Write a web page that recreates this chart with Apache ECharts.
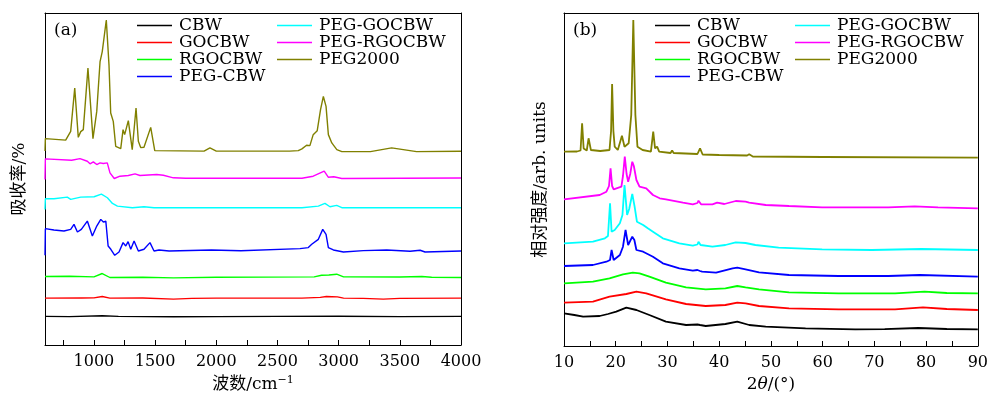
<!DOCTYPE html>
<html>
<head>
<meta charset="utf-8">
<script src="https://cdn.jsdelivr.net/npm/echarts@6/dist/echarts.min.js"></script>
<style>
html,body{margin:0;padding:0;background:#fff;}
#chart{width:991px;height:398px;}
</style>
</head>
<body>
<div id="chart"></div>
<script>
// ---------- DATA ----------
const seriesNames = ['CBW','GOCBW','RGOCBW','PEG-CBW','PEG-GOCBW','PEG-RGOCBW','PEG2000'];
const seriesColors = ['#000000','#ff0000','#00ff00','#0000ff','#00ffff','#ff00ff','#808000'];

// (a) FTIR: [wavenumber (cm^-1), offset absorbance (arb.)]
const ftirCBW = [[600,28.7],[800,28.5],[1068,29.3],[1200,28.7],[1650,28.3],[2000,28.5],[2500,28.7],[3000,28.9],[3500,28.5],[4000,28.7]];
const ftirGOCBW = [[600,47],[900,47.2],[1000,47.3],[1068,48.7],[1130,47],[1400,47.1],[1650,46],[1800,46.8],[2000,47],[2700,47],[2850,47.8],[2900,48.7],[2990,48.3],[3040,47],[3200,46.8],[3365,46],[3500,46.8],[4000,47]];
const ftirRGOCBW = [[600,68.7],[800,68.9],[1000,68.3],[1068,71.7],[1130,67.7],[1400,67.9],[1650,67.3],[2000,68],[2800,68.3],[2860,70],[2920,70.2],[2984,71],[3040,68.3],[3500,68.2],[3680,68.7],[3760,68],[4000,67.7]];
const ftirPEGCBW = [[600,90],[603,116.7],[673,115.3],[755,114.3],[810,116],[837,121],[865,113.3],[897,116],[946,124.3],[987,109.3],[1023,119.3],[1056,126],[1077,123.3],[1097,124.3],[1116,99.3],[1138,96],[1170,90],[1205,93.3],[1238,102.7],[1260,99.3],[1279,103.7],[1301,96],[1328,104.3],[1363,94.3],[1409,96],[1458,102.7],[1491,94.3],[1532,95.3],[1614,94.3],[1960,95.3],[2200,94.5],[2684,96.7],[2752,97.7],[2780,101],[2834,106],[2870,116],[2897,111],[2916,97.7],[2957,95.3],[3039,93.3],[3202,94.7],[3393,95.3],[3584,94],[3666,95],[3706,93.3],[4000,94.3]];
const ftirPEGGOCBW = [[600,136],[603,146.7],[673,146.7],[782,148.3],[810,146],[892,148.3],[1001,148.7],[1061,151.3],[1110,147.7],[1151,142],[1192,139.3],[1314,137.7],[1409,138.7],[1491,137.7],[2700,137.7],[2834,139.3],[2888,142],[2929,138.7],[2984,140],[3026,137.7],[4000,137.7]];
const ftirPEGRGOCBW = [[600,166],[603,186.7],[818,185.3],[886,187],[946,184.3],[968,181.7],[995,183.7],[1023,181],[1050,182.7],[1076,182],[1109,182.7],[1131,172.7],[1166,167],[1213,169.3],[1281,170],[1336,171.7],[1376,170],[1513,171],[1567,170.3],[1649,167.7],[1750,167.3],[2700,167.3],[2792,169.3],[2882,174.3],[2915,168.3],[2960,168.7],[3026,167],[4000,167.5]];
const ftirPEG2000 = [[600,194.5],[603,207],[769,205.5],[810,214.3],[843,257.7],[872,208.3],[892,214],[913,216],[951,277.7],[992,207],[1023,234.3],[1050,284.3],[1068,294.3],[1101,326],[1123,281],[1137,232.7],[1158,224.3],[1178,199.3],[1219,197],[1238,216],[1251,211],[1281,225],[1313,196],[1344,237.7],[1363,204.3],[1382,198],[1409,198.3],[1464,218.3],[1497,195],[1900,194.5],[1948,197.7],[2000,194.5],[2600,194.5],[2670,195],[2700,196.7],[2738,200.3],[2765,200],[2792,211],[2825,215],[2852,236],[2875,249.3],[2897,239.3],[2916,211],[2944,202.7],[2985,196],[3026,194],[3260,194],[3433,197.7],[3637,194],[4000,194.3]];

// (b) XRD: [2theta (deg), offset intensity (arb.)]
const xrdCBW = [[10,32.7],[12,31],[13.7,29.3],[16.9,30],[18.5,32],[20.1,34.3],[22.05,38.3],[24,36],[26.5,31],[29.7,24.3],[33.6,21],[35.8,21.5],[36,22.5],[36.3,21],[37.4,20],[41.2,22],[43.5,24.3],[45.8,21],[49,19.3],[56.7,17.7],[66.3,16.7],[72,16.8],[78.5,18],[84,17],[90,16.7]];
const xrdGOCBW = [[10,43.3],[15.6,44.3],[18.8,49.3],[22.05,52],[24,54.3],[25.9,52.7],[29.7,46.7],[33.6,42],[37.4,40],[41.2,41],[43.5,43.3],[45.1,42.7],[47.7,40],[53.5,37.7],[63.1,36.7],[74,36.7],[79.4,38.7],[84,37],[90,36]];
const xrdRGOCBW = [[10,62.7],[15.6,64.3],[18.8,67.7],[21.4,71.7],[23.3,73.3],[24.6,72.7],[26.5,69.3],[29.7,63.3],[33.6,58.7],[37.4,56.7],[41.2,57.7],[43.5,60],[45.1,58.7],[47.7,56.7],[53.5,53.7],[63.1,52.7],[74,52.7],[79.7,54.3],[84,53],[90,52.7]];
const xrdPEGCBW = [[10,80],[15.6,81],[18.2,84.3],[18.9,86],[19.2,96],[19.6,86],[20.8,91],[21.4,99.3],[21.9,116],[22.4,101],[23.2,109.3],[23.6,106],[24,96],[25.3,94.3],[27.2,89.3],[29.1,82.7],[32.3,77.7],[34.9,75.3],[35.8,76],[36.0,77.7],[36.3,75],[36.7,74.3],[39.4,73.3],[42.6,77.7],[43.5,78.3],[45.1,76.7],[47.7,73.7],[53.5,71],[63.1,70],[72.7,70],[78.8,71],[90,69.3]];
const xrdPEGGOCBW = [[10,102.7],[15.6,104.3],[17.9,107.7],[18.5,110],[18.9,142.7],[19.2,114.3],[19.8,116],[20.8,122.7],[21.3,131],[21.7,161],[22.2,131],[22.6,137],[23.2,152],[23.65,139.3],[24.1,124.3],[25.3,121],[26.2,117.7],[27.2,114.3],[29.1,107.7],[32.3,102.7],[34.9,100.3],[35.8,101.5],[36.0,104.3],[36.4,101],[36.7,100.3],[38.7,99.3],[41.2,101],[43.2,103.7],[45.1,103],[47,101],[51.5,98.3],[59.9,96.7],[69.5,96],[79.1,97],[90,96]];
const xrdPEGRGOCBW = [[10,146.7],[16.9,151],[18.2,154.3],[18.7,160],[19.0,177.7],[19.3,160],[19.6,156.7],[21.1,159.3],[21.4,170],[21.75,189.3],[22.1,172],[22.4,164.3],[22.8,172],[23.2,184.3],[23.5,180],[24.0,166],[24.6,159.3],[25.9,157.7],[26.2,156],[27.2,151],[28.5,147.7],[29.7,146.7],[33,143.3],[34.9,141.7],[35.8,143],[36.0,145.3],[36.5,141.7],[38.7,141.7],[39.6,143.3],[41,142],[43.2,145],[45.1,144.3],[45.8,143.3],[49,141],[53.5,140],[59.9,138.7],[66.3,138.7],[72.7,138.7],[77.8,139.7],[82.3,138.7],[90,137.7]];
const xrdPEG2000 = [[10,194.3],[12.5,194.5],[13.2,195.5],[13.5,222.7],[13.8,197.5],[14.4,195.5],[14.75,207.7],[15.2,196],[17,195],[18.8,196],[19.1,215],[19.3,262],[19.55,215],[19.8,199.3],[20.4,196],[21.2,210.3],[21.7,199.3],[22.5,202.7],[23.0,231],[23.4,326],[23.8,231],[24.2,199.3],[25.2,196],[26.8,194.3],[27.25,214.3],[27.6,197.7],[28.0,199.3],[28.4,194.3],[30.6,193],[30.9,195.5],[31.2,193],[35.8,192],[36.3,197.7],[36.8,191.5],[40,191],[45.4,190.5],[45.8,191.7],[46.5,189.5],[60,189],[90,188.3]];

// tick labels and tick positions
const ftirTickLabels = [1000,1500,2000,2500,3000,3500,4000];
const ftirTicks = [750,1000,1250,1500,1750,2000,2250,2500,2750,3000,3250,3500,3750];
const xrdTickLabels = [10,20,30,40,50,60,70,80,90];
const xrdTicks = [15,20,25,30,35,40,45,50,55,60,65,70,75,80,85];

const ftirData = [ftirCBW, ftirGOCBW, ftirRGOCBW, ftirPEGCBW, ftirPEGGOCBW, ftirPEGRGOCBW, ftirPEG2000];
const xrdData = [xrdCBW, xrdGOCBW, xrdRGOCBW, xrdPEGCBW, xrdPEGGOCBW, xrdPEGRGOCBW, xrdPEG2000];

// ---------- CHART ----------
const SERIF = "'DejaVu Serif', 'Liberation Serif', 'Noto Sans CJK SC', serif";
const chart = echarts.init(document.getElementById('chart'), null, {renderer: 'canvas'});

const nameStyle = {
  fontFamily: SERIF, fontSize: 17, color: '#000',
  rich: {
    sup: {fontFamily: SERIF, fontSize: 11, color: '#000', verticalAlign: 'top', padding: [0,0,8,0]},
    it: {fontFamily: SERIF, fontSize: 17, fontStyle: 'italic', color: '#000'}
  }
};
const LINE = {color: '#000', width: 1};

function labelAxis(gridIndex, min, max, labels, name) {
  return {
    type: 'value', gridIndex, min, max, position: 'bottom',
    name, nameLocation: 'middle', nameGap: 30, nameTextStyle: nameStyle,
    axisLine: {show: true, onZero: false, lineStyle: LINE},
    axisTick: {show: false},
    axisLabel: {show: true, customValues: labels, margin: 9, fontFamily: SERIF, fontSize: 16, color: '#000',
      formatter: v => String(v)},
    splitLine: {show: false}
  };
}
function tickAxis(gridIndex, min, max, ticks) {
  return {
    type: 'value', gridIndex, min, max, position: 'bottom',
    axisLine: {show: false, onZero: false},
    axisTick: {show: true, inside: true, length: 5, customValues: ticks, lineStyle: LINE},
    axisLabel: {show: false},
    splitLine: {show: false}
  };
}
function frameX(gridIndex, min, max) {
  return {
    type: 'value', gridIndex, min, max, position: 'top',
    axisLine: {show: true, onZero: false, lineStyle: LINE},
    axisTick: {show: false}, axisLabel: {show: false}, splitLine: {show: false}
  };
}
function yAxisCfg(gridIndex, name, gap) {
  return {
    type: 'value', gridIndex, min: 0, max: 333, position: 'left',
    name, nameLocation: 'middle', nameGap: gap, nameRotate: 90,
    nameTextStyle: {fontFamily: SERIF, fontSize: 17, color: '#000'},
    axisLine: {show: true, onZero: false, lineStyle: LINE},
    axisTick: {show: false}, axisLabel: {show: false}, splitLine: {show: false}
  };
}
function frameY(gridIndex) {
  return {
    type: 'value', gridIndex, min: 0, max: 333, position: 'right',
    axisLine: {show: true, onZero: false, lineStyle: LINE},
    axisTick: {show: false}, axisLabel: {show: false}, splitLine: {show: false}
  };
}

const series = [];
seriesNames.forEach((n, i) => {
  series.push({name: n, type: 'line', xAxisIndex: 0, yAxisIndex: 0, data: ftirData[i],
    symbol: 'none', smooth: false, color: seriesColors[i],
    lineStyle: {color: seriesColors[i], width: 1.4}, z: 3});
  series.push({name: n, type: 'line', xAxisIndex: 1, yAxisIndex: 1, data: xrdData[i],
    symbol: 'none', smooth: false, color: seriesColors[i],
    lineStyle: {color: seriesColors[i], width: 1.8}, z: 3});
});

function legendCfg(left, names) {
  return {
    left, top: 17, padding: 0, orient: 'vertical', itemGap: 0, itemWidth: 35, itemHeight: 16,
    icon: 'path://M0,7.3 L35,7.3 L35,8.7 L0,8.7 Z',
    data: names, selectedMode: false,
    textStyle: {fontFamily: SERIF, fontSize: 17, lineHeight: 16, color: '#000', padding: [0,0,0,2]}
  };
}

chart.setOption({
  animation: false,
  backgroundColor: '#fff',
  grid: [
    {left: 45, top: 13, width: 416, height: 333, show: false, containLabel: false},
    {left: 564, top: 13, width: 416, height: 333, show: false, containLabel: false}
  ],
  xAxis: [
    labelAxis(0, 600, 4000, ftirTickLabels, '波数/cm{sup|−1}'),
    labelAxis(1, 10, 90, xrdTickLabels, '2{it|θ}/(°)'),
    tickAxis(0, 600, 4000, ftirTicks),
    tickAxis(1, 10, 90, xrdTicks),
    frameX(0, 600, 4000),
    frameX(1, 10, 90)
  ],
  yAxis: [
    yAxisCfg(0, '吸收率/%', 17),
    yAxisCfg(1, '相对强度/arb. units', 15),
    frameY(0),
    frameY(1)
  ],
  legend: [
    legendCfg(137, seriesNames.slice(0,4)),
    legendCfg(277, seriesNames.slice(4)),
    legendCfg(655, seriesNames.slice(0,4)),
    legendCfg(795, seriesNames.slice(4))
  ],
  graphic: [
    {type: 'text', left: 54, top: 22, style: {text: '(a)', font: "17px 'DejaVu Serif', serif", fill: '#000'}},
    {type: 'text', left: 573, top: 22, style: {text: '(b)', font: "17px 'DejaVu Serif', serif", fill: '#000'}}
  ],
  series
});
</script>
</body>
</html>
